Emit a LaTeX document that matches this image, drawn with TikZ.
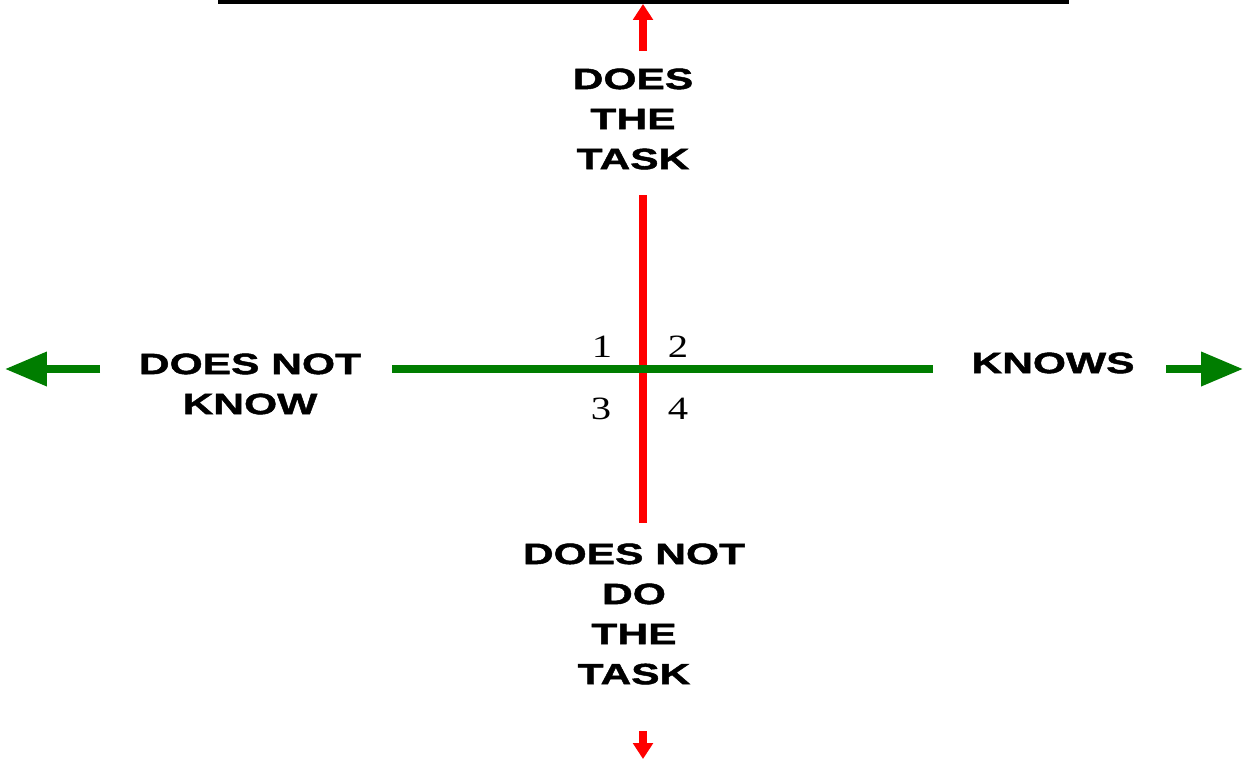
\documentclass[tikz,border=0pt]{standalone}
\usepackage{fontspec}
\usepackage{tikz}
\usetikzlibrary{arrows.meta}
\usetikzlibrary{positioning}
\newfontfamily\labelfont[FakeStretch=1.45,FakeBold=1.6]{Liberation Sans}
\newfontfamily\numfont[FakeStretch=1.25]{Liberation Serif}
\definecolor{axisred}{RGB}{255,0,0}
\definecolor{axisgreen}{RGB}{0,125,0}
\tikzset{
	axislabel/.style={font=\labelfont\bfseries\fontsize{16.7}{22.8}\selectfont,align=center,inner sep=0pt},
	quadnum/.style={font=\numfont\fontsize{18.5}{20}\selectfont,inner sep=0pt},
	bigtip/.style={-{Triangle[length=23.9pt,width=18.8pt]}},
	smalltip/.style={-{Triangle[length=9pt,width=11pt]}}
}

\begin{document}
\begin{tikzpicture}[x=0.02cm,y=-0.02cm]
	\useasboundingbox (0,0) rectangle (1244,761);

	% draw top border line
	\coordinate (topleft) at (218,2);
	\coordinate (topright) at (1069,2);
	\draw[line width=2.3pt] (topleft) -- (topright);

	% axis labels
	\node (does) at (633,119) [axislabel] {DOES\\THE\\TASK};
	\node (doesnot) at (634,614) [axislabel] {DOES NOT\\DO\\THE\\TASK};
	\node (notknow) at (250,384) [axislabel] {DOES NOT\\KNOW};
	\node (knows) at (1053,363) [axislabel] {KNOWS};

	% quadrant numbers
	\node (q1) at (602,347) [quadnum] {1};
	\node (q2) at (678,347) [quadnum] {2};
	\node (q3) at (601,409) [quadnum] {3};
	\node (q4) at (678,409) [quadnum] {4};

	% draw vertical axis
	\coordinate (redhigh) at (643,195);
	\coordinate (redlow) at (643,523);
	\draw[axisred,line width=4.5pt] (redhigh) -- (redlow);

	% draw horizontal axis
	\coordinate (greenleft) at (392,369);
	\coordinate (greenright) at (933,369);
	\draw[axisgreen,line width=4pt] (greenleft) -- (greenright);

	% draw red arrows
	\coordinate (uptail) at (643,51);
	\coordinate (uptip) at (643,4);
	\coordinate (downtail) at (643,731);
	\coordinate (downtip) at (643,759);
	\draw[axisred,line width=4pt,smalltip] (uptail) -- (uptip);
	\draw[axisred,line width=4pt,smalltip] (downtail) -- (downtip);

	% draw green arrows
	\coordinate (lefttail) at (100,369);
	\coordinate (lefttip) at (5,369);
	\coordinate (righttail) at (1166,369);
	\coordinate (righttip) at (1243,369);
	\draw[axisgreen,line width=4pt,bigtip] (lefttail) -- (lefttip);
	\draw[axisgreen,line width=4pt,bigtip] (righttail) -- (righttip);
\end{tikzpicture}
\end{document}
